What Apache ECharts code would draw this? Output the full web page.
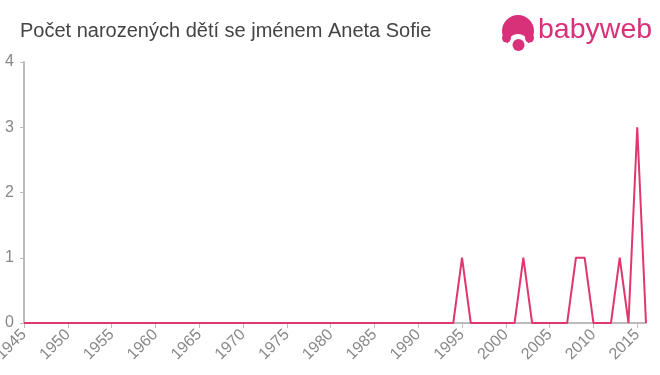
<!DOCTYPE html>
<html><head><meta charset="utf-8">
<script src="https://cdn.jsdelivr.net/npm/echarts@6/dist/echarts.min.js"></script>
<style>html,body{margin:0;padding:0;background:#fff}#c{width:660px;height:375px}</style>
</head><body><div id="c"></div>
<script>
const titleText = "Počet narozených dětí se jménem Aneta Sofie";
const years = [];
for (let y = 1945; y <= 2016; y++) years.push(y);
const nonZero = {1995: 1, 2002: 1, 2008: 1, 2009: 1, 2013: 1, 2015: 3};
const counts = years.map(y => nonZero[y] || 0);

const FONT = 'Liberation Sans, Arial, sans-serif';
const PINK = '#d9307a';
const chart = echarts.init(document.getElementById('c'), null, {renderer: 'canvas'});
chart.setOption({
  animation: false,
  title: {
    text: titleText, left: 15, top: 16,
    textStyle: {fontFamily: FONT, fontSize: 20, fontWeight: 'normal', color: '#444'}
  },
  graphic: [
    {type: 'circle', shape: {cx: 518, cy: 31, r: 16}, style: {fill: PINK}},
    {type: 'ellipse', shape: {cx: 518, cy: 43, rx: 10, ry: 9}, style: {fill: '#fff'}},
    {type: 'circle', shape: {cx: 506.5, cy: 38, r: 4.5}, style: {fill: PINK}},
    {type: 'circle', shape: {cx: 529.5, cy: 38, r: 4.5}, style: {fill: PINK}},
    {type: 'circle', shape: {cx: 518.5, cy: 45, r: 6}, style: {fill: PINK}},
    {type: 'text', left: 538, top: 16, style: {text: 'babyweb', fontFamily: FONT, fontSize: 28.5, fontWeight: 'normal', fill: PINK}}
  ],
  grid: {left: 24, right: 14, top: 62, bottom: 52, containLabel: false, outerBoundsMode: 'none'},
  xAxis: {
    type: 'value', min: 1945, max: 2016, interval: 5,
    axisLine: {show: true, lineStyle: {color: '#bbb', width: 2}},
    axisTick: {show: true, length: 5, lineStyle: {color: '#bbb'}},
    splitLine: {show: false},
    axisLabel: {rotate: 45, showMaxLabel: false, showMinLabel: true, color: '#888', fontSize: 16, fontFamily: FONT, margin: 9, formatter: v => String(v)}
  },
  yAxis: {
    type: 'value', min: 0, max: 4, interval: 1,
    axisLine: {show: true, lineStyle: {color: '#bbb', width: 2}},
    axisTick: {show: true, length: 4, lineStyle: {color: '#bbb'}},
    splitLine: {show: false},
    axisLabel: {color: '#888', fontSize: 16, fontFamily: FONT, margin: 10}
  },
  series: [{
    type: 'line',
    data: years.map((y, i) => [y, counts[i]]),
    showSymbol: false,
    lineStyle: {color: '#e0386e', width: 2},
    itemStyle: {color: '#e0386e'}
  }]
});
</script></body></html>
